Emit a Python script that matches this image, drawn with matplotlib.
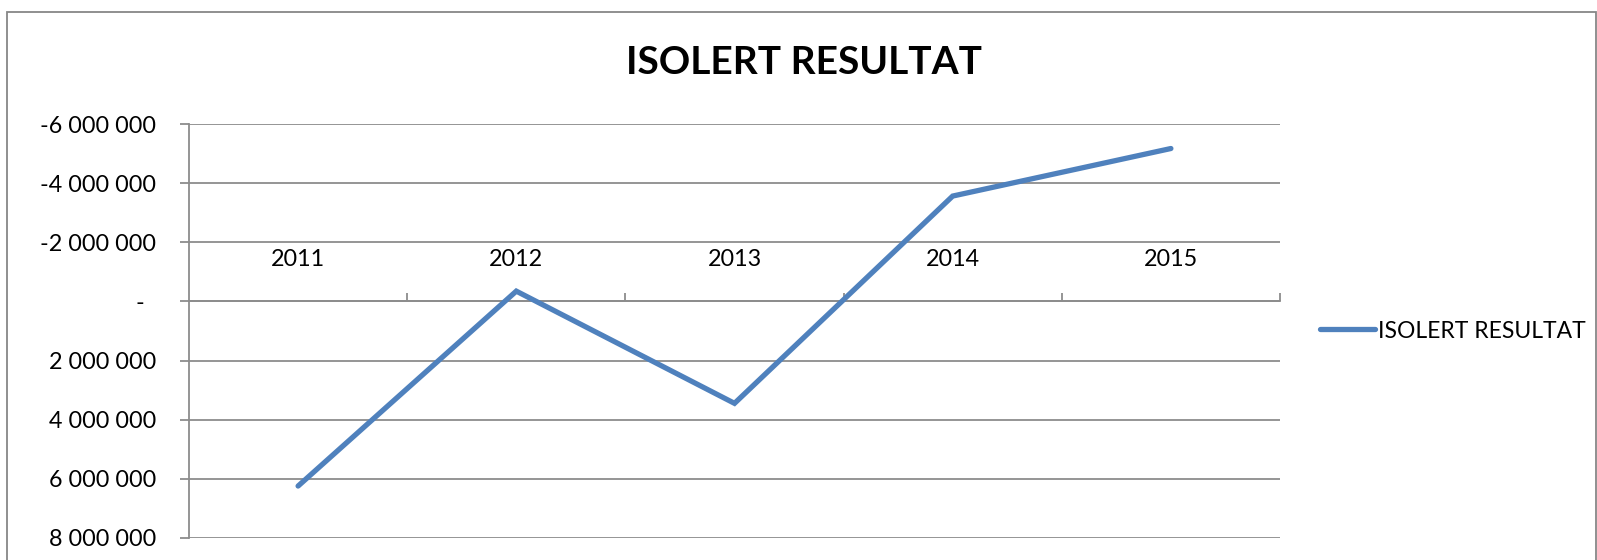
import matplotlib
matplotlib.use("Agg")
import matplotlib.pyplot as plt
from matplotlib.ticker import FuncFormatter, FixedLocator
from matplotlib.patches import Rectangle

years = ["2011", "2012", "2013", "2014", "2015"]
resultat = [6250000, -350000, 3450000, -3570000, -5180000]
series_name = "ISOLERT RESULTAT"
title = "ISOLERT RESULTAT"

plt.rcParams["font.family"] = ["Lato", "DejaVu Sans"]

W, H = 1597, 560
fig = plt.figure(figsize=(W / 100, H / 100), dpi=100)

# outer chart frame
fig.patches.append(Rectangle((7 / W, -0.1), (W - 8) / W, 1.1 - 12 / H, transform=fig.transFigure,
                             fill=False, edgecolor="#878787", linewidth=1.3))

ax = fig.add_axes([189 / W, 22.3 / H, (1280 - 189) / W, (537.7 - 124.3) / H])

x = list(range(len(years)))
ax.plot(x, resultat, color="#4F81BD", linewidth=3.8, solid_capstyle="round",
        solid_joinstyle="miter", label=series_name, zorder=3)

ax.set_xlim(-0.5, len(years) - 0.5)
ax.set_ylim(8000000, -6000000)
ax.set_yticks(range(-6000000, 8000001, 2000000))


def fmt(v, pos):
    if v == 0:
        return "-  "
    return f"{int(v):,}".replace(",", " ")


ax.yaxis.set_major_formatter(FuncFormatter(fmt))
ax.grid(axis="y", color="#8c8c8c", linewidth=1.3)
ax.set_axisbelow(True)

for s in ["top", "right"]:
    ax.spines[s].set_visible(False)
ax.spines["left"].set_color("#8c8c8c")
ax.spines["left"].set_linewidth(1.3)
ax.spines["bottom"].set_position(("data", 0))
ax.spines["bottom"].set_color("#8c8c8c")
ax.spines["bottom"].set_linewidth(1.3)

ax.tick_params(axis="y", length=6.5, width=1.3, color="#8c8c8c", pad=17, labelsize=16.8)
ax.xaxis.set_major_locator(FixedLocator([i + 0.5 for i in x]))
ax.set_xticklabels([])
ax.tick_params(axis="x", direction="in", length=6, width=1.3, color="#8c8c8c")

for i, yr in zip(x, years):
    ax.annotate(yr, (i, 0), xytext=(0, 30), textcoords="offset points",
                ha="center", va="center", fontsize=16.8)

fig.text(804 / W, 1 - 63 / H, title, ha="center", va="center", fontsize=28, fontweight="bold")

ax.legend(loc="center left", bbox_to_anchor=(1320 / W, 1 - 331 / H), bbox_transform=fig.transFigure,
          frameon=False, fontsize=16.5, handlelength=2.4, handletextpad=0.15, borderpad=0,
          borderaxespad=0)

fig.savefig("out.png", dpi=100)
